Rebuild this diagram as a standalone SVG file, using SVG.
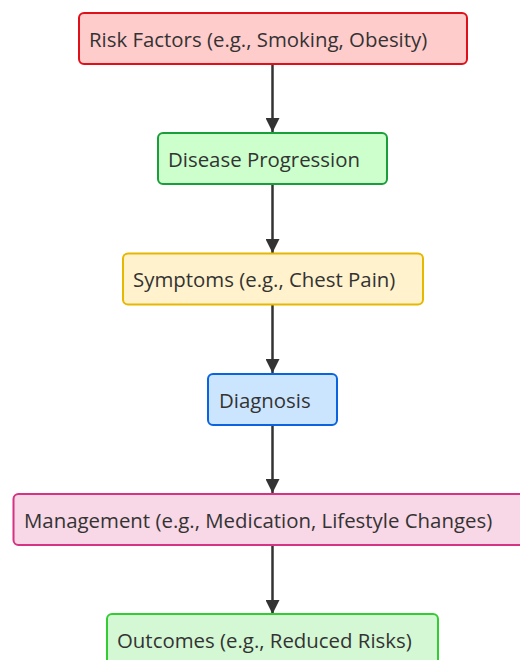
<svg xmlns="http://www.w3.org/2000/svg" width="520" height="660" viewBox="0 0 520 660">
<defs>
<style>
.n rect{stroke-width:2}
.n text{font-family:"Open Sans","Noto Sans",sans-serif;font-size:20.4px;fill:#333}
.c line{stroke:#333;stroke-width:2.5}
</style>
<marker id="ah" viewBox="0 0 10 10" refX="10" refY="5" markerWidth="5.6" markerHeight="5.6" markerUnits="strokeWidth" orient="auto">
<path d="M0,0 L10,5 L0,10 z" fill="#333"/>
</marker>
</defs>
<rect width="520" height="660" fill="#fff"/>
<g class="c">
<line x1="272.5" y1="65" x2="272.5" y2="132" marker-end="url(#ah)"/>
<line x1="272.5" y1="185" x2="272.5" y2="253" marker-end="url(#ah)"/>
<line x1="272.5" y1="305" x2="272.5" y2="373" marker-end="url(#ah)"/>
<line x1="272.5" y1="425" x2="272.5" y2="493" marker-end="url(#ah)"/>
<line x1="272.5" y1="546" x2="272.5" y2="614" marker-end="url(#ah)"/>
</g>
<g id="n1" class="n"><rect x="79" y="13" width="388" height="51" rx="5" fill="#ffcccc" stroke="#e0101a"/><text x="89" y="47">Risk Factors (e.g., Smoking, Obesity)</text></g>
<g id="n2" class="n"><rect x="158" y="133" width="229" height="51" rx="5" fill="#ccffcc" stroke="#1a9e3a"/><text x="168" y="167">Disease Progression</text></g>
<g id="n3" class="n"><rect x="123" y="253.5" width="300" height="51" rx="5" fill="#fff2cc" stroke="#e6b800"/><text x="133" y="287">Symptoms (e.g., Chest Pain)</text></g>
<g id="n4" class="n"><rect x="208" y="374" width="129" height="51" rx="5" fill="#cce5ff" stroke="#0a64e0"/><text x="219" y="408">Diagnosis</text></g>
<g id="n5" class="n"><rect x="13.5" y="494" width="520" height="51" rx="5" fill="#f8d7e6" stroke="#d63384"/><text x="24" y="528">Management (e.g., Medication, Lifestyle Changes)</text></g>
<g id="n6" class="n"><rect x="107" y="614" width="331" height="60" rx="5" fill="#d4f8d4" stroke="#33cc33"/><text x="117" y="648">Outcomes (e.g., Reduced Risks)</text></g>
</svg>
